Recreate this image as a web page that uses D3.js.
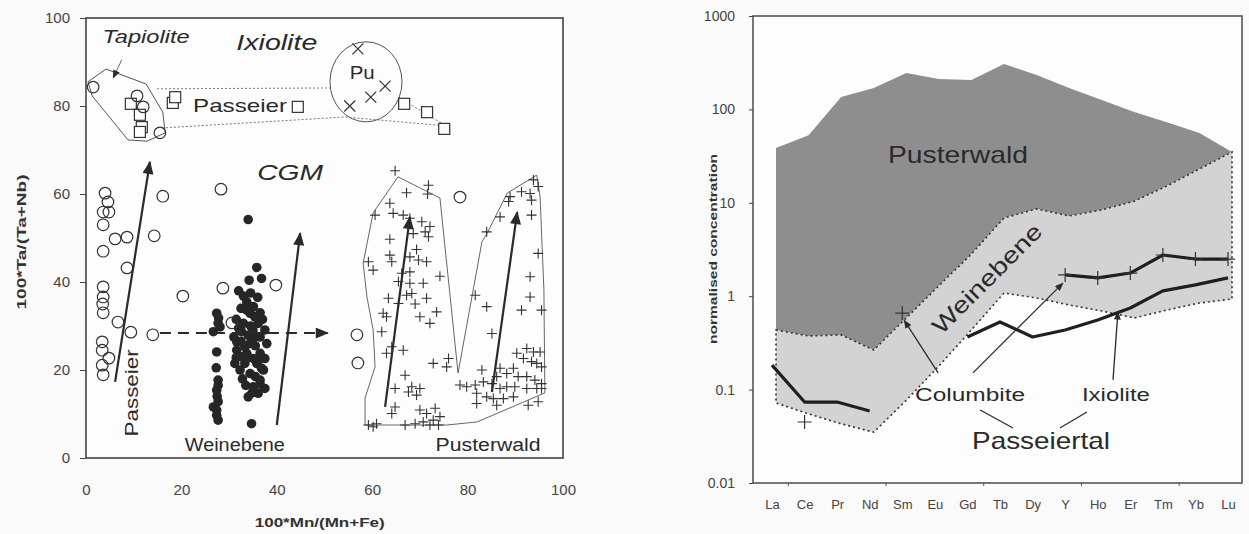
<!DOCTYPE html>
<html>
<head>
<meta charset="utf-8">
<title>CGM composition and REE patterns</title>
<script src="https://d3js.org/d3.v7.min.js"></script>
<style>
  body { margin: 0; background: #fafafa; }
  svg { display: block; font-family: "Liberation Sans", Arial, sans-serif; }
  .axis text { fill: #444; }
  .axis line { stroke: #444; }
</style>
</head>
<body>
<svg id="chart" width="1249" height="534"></svg>
<script>
// ---------- left panel: 100*Mn/(Mn+Fe) vs 100*Ta/(Ta+Nb) ----------
var passeierCircles = [[4.0,60.2],[4.6,58.2],[3.6,55.9],[4.8,55.9],[3.6,53],[6.1,49.8],[8.6,50.2],[14.3,50.5],
  [16.1,59.5],[28.3,61.1],[3.6,47],[8.6,43.2],[3.6,38.9],[3.6,36.6],[3.5,35],[20.3,36.8],[28.7,38.6],
  [3.6,33],[6.7,30.9],[9.4,28.6],[14,28],[3.4,26.4],[3.4,24.5],[4.8,22.7],[3.4,21.1],[3.6,18.9],
  [30.6,30.7],[56.8,28],[57,21.6],[78.4,59.3],[39.8,39.3]];
var tapioliteCircles = [[1.5,84.3],[10.7,82.3],[12,79.8],[15.5,73.9]];
var passeierSquares = [[9.4,80.5],[11.3,78],[11.7,75.2],[11.3,74.1],[18.2,80.7],[18.7,82],[44.4,79.8],
  [66.7,80.5],[71.5,78.6],[75.1,74.8]];
var puCrosses = [[57,93],[62.7,84.5],[59.7,82],[55.3,80]];
var weinebeneDots = [[34.0,54.2],[35.8,43.3],[34.2,40.4],[36.8,40.8],[33.7,35.5],[35.1,34.4],[34.4,32.9],
  [27.4,32.9],[27.7,30.6],[26.7,28.7],[33.0,30.6],[36.1,30.6],[32.6,28.7],[34.0,27.9],[37.5,29.1],
  [31.6,26.4],[34.4,26.0],[37.9,26.0],[27.4,24.1],[31.6,24.5],[33.7,23.8],[36.5,23.8],[31.2,21.5],
  [33.3,21.5],[35.8,21.5],[37.5,22.6],[32.3,20.0],[34.4,19.2],[36.5,17.7],[35.1,16.2],[37.5,15.8],
  [34.0,13.9],[27.7,17.7],[27.4,15.4],[27.7,12.8],[27.4,10.9],[27.7,8.6],[34.7,7.8],[37.2,20.0],
  [33.7,33.6],[35.4,32.1],[33.3,25.3],[35.4,27.6],[32.6,23.0],[35.1,22.6],[36.8,20.4],[36.1,14.7],
  [28.1,29.8],[26.7,11.6],[27.4,9.7],
  [32,38],[33,36.8],[34.5,37.5],[36,36.5],[32.5,34],[36.5,33],[31.5,31.5],[34.5,30],[37,31.5],
  [32,29.5],[35,29],[31,27.5],[36.5,27.5],[32.5,26.5],[35.5,25.5],[31.5,22.8],[34,22.8],[36,22],
  [32.8,18],[35.5,18.5],[33.5,16.5],[36.5,16.8],[34.8,14.8],[27.5,14],[27.7,16.5],[27.3,20.5],[27.8,31.8]];
var pusterwaldCrosses = [[64.8,65.3],[71.8,62.0],[67.2,60.3],[71.6,60.0],[63.7,57.9],[64.4,55.6],[60.6,55.2],
  [66.5,55.2],[67.9,54.5],[70.4,53.7],[72.1,52.6],[71.1,51.4],[71.8,50.3],[68.6,51.0],[63.7,49.7],
  [69.3,47.4],[63.7,46.1],[67.9,45.7],[69.7,45.0],[71.4,44.6],[59.2,44.6],[60.2,42.7],[64.1,44.6],
  [66.2,42.0],[67.9,42.3],[74.2,41.3],[65.5,40.1],[67.9,39.7],[70.7,39.7],[67.2,37.0],[68.3,37.4],
  [63.4,36.3],[65.5,35.1],[69.0,35.0],[71.4,36.3],[73.5,33.2],[62.3,32.9],[63.0,32.1],[70.0,32.1],
  [72.1,30.6],[62.0,28.7],[64.1,25.3],[66.5,24.5],[63.0,23.8],[72.8,21.5],[76.0,22.6],[75.6,20.7],
  [66.9,18.8],[64.8,15.8],[68.3,16.2],[70.0,15.8],[69.3,14.3],[67.6,15.0],[64.8,11.6],[64.1,10.1],
  [70.0,10.9],[71.4,10.1],[73.2,11.3],[74.2,9.4],[72.8,8.6],[70.7,8.2],[69.0,7.8],[66.9,7.5],
  [59.2,7.5],[60.9,7.8],[60.2,7.1],[72.1,7.5],[73.9,7.5],
  [93.8,63.2],[94.8,61.7],[91.3,60.5],[93.1,60.1],[88.9,59.4],[93.4,58.6],[88.6,58.3],[93.4,55.2],
  [86.8,54.8],[84.0,51.4],[94.8,46.5],[93.1,41.2],[93.1,36.6],[81.6,37.0],[84.0,34.4],[91.3,33.6],
  [95.5,33.6],[85.1,28.3],[90.3,23.8],[92.4,24.9],[93.8,24.1],[95.2,24.1],[91.7,22.6],[93.4,21.9],
  [94.5,21.5],[95.5,20.7],[86.8,20.4],[89.6,20.4],[83.0,20.0],[88.2,19.2],[90.6,18.5],[92.4,18.5],
  [94.1,17.7],[95.5,16.9],[86.1,18.5],[85.1,16.9],[83.3,17.3],[81.6,16.6],[79.8,16.2],[78.4,16.6],
  [86.8,15.8],[88.2,16.2],[89.9,16.2],[92.4,15.8],[94.5,15.8],[95.5,15.8],[81.9,14.7],[84.0,13.9],
  [85.4,13.5],[87.5,13.5],[89.6,13.9],[81.9,12.4],[86.1,12.0],[92.7,12.0],[94.8,12.8]];
var pusterwaldHull = [[60.2,55.7],[65.4,63.9],[74.2,59.1],[78,19.3],[83,49.1],[84.1,51.1],[88.3,60.2],
  [94.5,64.3],[95.2,59.3],[96,38.2],[96.2,14.8],[82,8.2],[75.7,7.5],[58.5,7.5],[58.5,13.6],[60.6,20.7],
  [60.2,29.1],[58.9,36.6],[58.1,44.3]];
var tapioliteHull = [[0.4,85.5],[4.2,88.4],[12.6,85],[16.1,78.6],[16.6,73.9],[12.8,72],[8.8,72.3],[1.3,82.3]];
var passeierUpper = [[14.9,83.9],[51.2,84.1]];
var passeierUpper2 = [[65.4,82],[75.5,75.5]];
var passeierLower = [[15.9,75],[54.3,77.5],[75.3,75.5]];
var puEllipse = {cx: 58.7, cy: 85.5, rx: 7.55, ry: 9.1};
// trend arrows [from, to]
var trendArrows = [[[6.1,17.3],[13.4,67.3]], [[40,7.5],[44.9,51.1]], [[62.7,11.6],[67.9,54.8]], [[85.1,15],[90.4,55.9]]];
var dashedArrow = [[15.5,28.4],[50.7,28.4]];
var tapioliteArrow = [[7.5,90.5],[5.7,86.4]];
var leftTicks = [0, 20, 40, 60, 80, 100];

// ---------- right panel: normalised REE ----------
var ree = ["La","Ce","Pr","Nd","Sm","Eu","Gd","Tb","Dy","Y","Ho","Er","Tm","Yb","Lu"];
var pusterwaldTop   = [38.6, 53, 136, 169, 245, 211, 206, 306, 233, 169, 126, 94, 73, 56, 35];
var weinebeneTop    = [0.435, 0.375, 0.385, 0.265, 0.585, 1.29, 2.83, 6.87, 8.6, 7.23, 8.38, 10.4, 15.1, 23, 35];
var weinebeneBottom = [0.072, 0.055, 0.043, 0.035, 0.077, 0.179, 0.435, 1.08, 0.957, 0.805, 0.695, 0.585, 0.711, 0.845, 0.933];
var passeierLree    = [0.183, 0.0736, 0.0736, 0.059, null, null, null, null, null, null, null, null, null, null, null];
var passeierSingles = [null, 0.045, null, null, 0.66, null, null, null, null, null, null, null, null, null, null];
var columbiteLine   = [null, null, null, null, null, null, null, null, null, 1.69, 1.57, 1.77, 2.76, 2.5, 2.5];
var ixioliteLine    = [null, null, null, null, null, null, 0.366, 0.53, 0.366, 0.435, 0.556, 0.748, 1.14, 1.32, 1.57];
var rightTicks = [0.01, 0.1, 1, 10, 100, 1000];

var svg = d3.select("#chart");

// arrowheads
var defs = svg.append("defs");
defs.append("marker").attr("id", "head")
  .attr("viewBox", "0 0 12 10").attr("refX", 11).attr("refY", 5)
  .attr("markerUnits", "userSpaceOnUse").attr("markerWidth", 14).attr("markerHeight", 11)
  .attr("orient", "auto")
  .append("path").attr("d", "M0,0 L12,5 L0,10 Z").attr("fill", "#2a2a2a");
defs.append("marker").attr("id", "headSmall")
  .attr("viewBox", "0 0 12 10").attr("refX", 11).attr("refY", 5)
  .attr("markerUnits", "userSpaceOnUse").attr("markerWidth", 9).attr("markerHeight", 7)
  .attr("orient", "auto")
  .append("path").attr("d", "M0,0 L12,5 L0,10 Z").attr("fill", "#2a2a2a");

// text helper: the scanned figure is stretched sideways, so labels get a fixed length
function label(g, t, px, py, size, len, opts) {
  opts = opts || {};
  var el = g.append("text").attr("text-anchor", "middle").attr("dy", "0.35em")
    .attr("transform", "translate(" + px + "," + py + ")" + (opts.rot ? " rotate(" + opts.rot + ")" : ""))
    .style("font-size", size + "px").attr("fill", opts.fill || "#2a2a2a").text(t);
  if (len) el.attr("textLength", len).attr("lengthAdjust", "spacingAndGlyphs");
  if (opts.italic) el.style("font-style", "italic");
  if (opts.bold) el.style("font-weight", "bold");
  return el;
}

// ===================== LEFT =====================
var x = d3.scaleLinear().domain([0, 100]).range([86, 563]);
var y = d3.scaleLinear().domain([0, 100]).range([458, 18]);
var L = svg.append("g");

L.append("rect").attr("x", x(0)).attr("y", y(100))
  .attr("width", x(100) - x(0)).attr("height", y(0) - y(100))
  .attr("fill", "#fdfdfd").attr("stroke", "#444").attr("stroke-width", 1.6);

L.append("g").attr("class", "axis").attr("transform", "translate(" + x(0) + ",0)")
  .call(d3.axisLeft(y).tickValues(leftTicks).tickSize(6).tickPadding(10).tickSizeOuter(0))
  .call(function (g) { g.select(".domain").remove(); })
  .selectAll("text").style("font-size", "15px");
L.append("g").attr("class", "axis").attr("transform", "translate(0," + y(0) + ")")
  .call(d3.axisBottom(x).tickValues(leftTicks).tickSize(0).tickPadding(26).tickSizeOuter(0))
  .call(function (g) { g.select(".domain").remove(); })
  .selectAll("text").style("font-size", "15px");

label(L, "100*Mn/(Mn+Fe)", x(49), 523, 12, 130, {bold: true, fill: "#333"});
label(L, "100*Ta/(Ta+Nb)", 22, 242, 12, 135, {bold: true, fill: "#333", rot: -90});

var line = d3.line().x(function (d) { return x(d[0]); }).y(function (d) { return y(d[1]); });

// envelopes
L.append("path").datum(pusterwaldHull).attr("d", function (d) { return line(d) + "Z"; })
  .attr("fill", "none").attr("stroke", "#666").attr("stroke-width", 1);
L.append("path").datum(tapioliteHull).attr("d", function (d) { return line(d) + "Z"; })
  .attr("fill", "none").attr("stroke", "#555").attr("stroke-width", 1);
[passeierUpper, passeierUpper2, passeierLower].forEach(function (p) {
  L.append("path").datum(p).attr("d", line).attr("fill", "none")
    .attr("stroke", "#777").attr("stroke-width", 1).attr("stroke-dasharray", "2,2");
});
L.append("ellipse").attr("cx", x(puEllipse.cx)).attr("cy", y(puEllipse.cy))
  .attr("rx", x(puEllipse.cx + puEllipse.rx) - x(puEllipse.cx))
  .attr("ry", y(puEllipse.cy - puEllipse.ry) - y(puEllipse.cy))
  .attr("fill", "none").attr("stroke", "#555").attr("stroke-width", 1);

// filled dots
L.selectAll(".wdot").data(weinebeneDots).enter().append("circle")
  .attr("cx", function (d) { return x(d[0]); }).attr("cy", function (d) { return y(d[1]); })
  .attr("r", 4.8).attr("fill", "#262626");

// crosses
L.selectAll(".pcross").data(pusterwaldCrosses).enter().append("path")
  .attr("d", function (d) { var px = x(d[0]), py = y(d[1]);
    return "M" + (px - 5) + "," + py + "H" + (px + 5) + "M" + px + "," + (py - 5) + "V" + (py + 5); })
  .attr("stroke", "#333").attr("stroke-width", 1.1);
L.selectAll(".xcross").data(puCrosses).enter().append("path")
  .attr("d", function (d) { var px = x(d[0]), py = y(d[1]);
    return "M" + (px - 5.5) + "," + (py - 5.5) + "L" + (px + 5.5) + "," + (py + 5.5) +
           "M" + (px - 5.5) + "," + (py + 5.5) + "L" + (px + 5.5) + "," + (py - 5.5); })
  .attr("stroke", "#333").attr("stroke-width", 1.2);

// squares
L.selectAll(".sq").data(passeierSquares).enter().append("rect")
  .attr("x", function (d) { return x(d[0]) - 5.5; }).attr("y", function (d) { return y(d[1]) - 5.5; })
  .attr("width", 11).attr("height", 11).attr("fill", "#fdfdfd").attr("stroke", "#333").attr("stroke-width", 1.2);

// open circles
L.selectAll(".oc").data(passeierCircles.concat(tapioliteCircles)).enter().append("circle")
  .attr("cx", function (d) { return x(d[0]); }).attr("cy", function (d) { return y(d[1]); })
  .attr("r", 5.8).attr("fill", "none").attr("stroke", "#333").attr("stroke-width", 1.2);

// arrows
trendArrows.forEach(function (a) {
  L.append("path").datum(a).attr("d", line).attr("stroke", "#2a2a2a").attr("stroke-width", 2.2)
    .attr("fill", "none").attr("marker-end", "url(#head)");
});
L.append("path").datum(dashedArrow).attr("d", line).attr("stroke", "#2a2a2a").attr("stroke-width", 2)
  .attr("stroke-dasharray", "11,7").attr("fill", "none").attr("marker-end", "url(#head)");
L.append("path").datum(tapioliteArrow).attr("d", line).attr("stroke", "#444").attr("stroke-width", 0.8)
  .attr("fill", "none").attr("marker-end", "url(#headSmall)");

// labels (value coordinates)
label(L, "Tapiolite", x(12.6), y(95.7), 18, 87, {italic: true});
label(L, "Ixiolite", x(40), y(94.5), 22, 81, {italic: true});
label(L, "Passeier", x(32.3), y(80.2), 19, 94);
label(L, "Pu", x(57.9), y(87.7), 19, 25);
label(L, "CGM", x(42.8), y(65), 22, 66, {italic: true});
label(L, "Passeier", x(9.6), y(14.8), 19, 87, {rot: -90});
label(L, "Weinebene", x(31.2), y(3.0), 18, 100);
label(L, "Pusterwald", x(84.3), y(3.0), 18, 105);

// ===================== RIGHT =====================
var xr = d3.scalePoint().domain(ree).range([772, 1228]);
var yr = d3.scaleLog().domain([0.01, 1000]).range([483, 16]);
var R = svg.append("g");
function xi(i) { return xr(ree[0]) + i * xr.step(); }

R.append("rect").attr("x", 753).attr("y", yr(1000)).attr("width", 1242 - 753)
  .attr("height", yr(0.01) - yr(1000)).attr("fill", "#fdfdfd");

// fills sit a few pixels right of the category positions in the scan
var fills = R.append("g").attr("transform", "translate(4,0)");
var pwArea = d3.area().x(function (d, i) { return xr(ree[i]); })
  .y0(function (d, i) { return yr(weinebeneTop[i]); }).y1(function (d) { return yr(d); });
fills.append("path").datum(pusterwaldTop).attr("d", pwArea).attr("fill", "#8e8e8e");

var wbArea = d3.area().x(function (d, i) { return xr(ree[i]); })
  .y0(function (d, i) { return yr(weinebeneBottom[i]); }).y1(function (d) { return yr(d); });
fills.append("path").datum(weinebeneTop).attr("d", wbArea)
  .attr("fill", "#d3d3d3").attr("stroke", "#333").attr("stroke-width", 1.6).attr("stroke-dasharray", "2,3");

R.append("rect").attr("x", 753).attr("y", yr(1000)).attr("width", 1242 - 753)
  .attr("height", yr(0.01) - yr(1000)).attr("fill", "none").attr("stroke", "#555").attr("stroke-width", 1.6);

R.append("g").attr("class", "axis").attr("transform", "translate(753,0)")
  .call(d3.axisLeft(yr).tickValues(rightTicks).tickFormat(function (d) { return String(d); })
    .tickSize(4).tickPadding(14).tickSizeOuter(0))
  .call(function (g) { g.select(".domain").remove(); })
  .selectAll("text").style("font-size", "14px");
R.append("g").attr("class", "axis").attr("transform", "translate(0," + yr(0.01) + ")")
  .call(d3.axisBottom(xr).tickSize(0).tickPadding(17))
  .call(function (g) { g.select(".domain").remove(); })
  .selectAll("text").style("font-size", "13px");
[0.5, 3.5, 6.5, 9.5, 12.5].forEach(function (t) {
  R.append("line").attr("x1", xi(t)).attr("x2", xi(t)).attr("y1", yr(0.01)).attr("y2", yr(0.01) + 3)
    .attr("stroke", "#555");
});
label(R, "normalised concentration", 713, 249, 11, 190, {bold: true, fill: "#333", rot: -90});

var rline = d3.line().defined(function (d) { return d != null; })
  .x(function (d, i) { return xr(ree[i]); }).y(function (d) { return yr(d); });
[passeierLree, columbiteLine, ixioliteLine].forEach(function (s) {
  R.append("path").datum(s).attr("d", rline).attr("fill", "none")
    .attr("stroke", "#1f1f1f").attr("stroke-width", 3.2).attr("stroke-linejoin", "round");
});
var crossPts = [];
columbiteLine.forEach(function (v, i) { if (v != null) crossPts.push([i, v]); });
passeierSingles.forEach(function (v, i) { if (v != null) crossPts.push([i, v]); });
R.selectAll(".rc").data(crossPts).enter().append("path")
  .attr("d", function (d) { var px = xi(d[0]), py = yr(d[1]);
    return "M" + (px - 7) + "," + py + "H" + (px + 7) + "M" + px + "," + (py - 7) + "V" + (py + 7); })
  .attr("stroke", "#333").attr("stroke-width", 1.2);

// annotation arrows (category index, value)
var rl = d3.line().x(function (d) { return xi(d[0]); }).y(function (d) { return yr(d[1]); });
var rArrows = [[[5.1, 0.151], [4.06, 0.55]], [[6.17, 0.151], [8.93, 1.38]], [[10.47, 0.127], [10.62, 0.68]]];
rArrows.forEach(function (a) {
  R.append("path").datum(a).attr("d", rl).attr("stroke", "#2a2a2a").attr("stroke-width", 1.3)
    .attr("fill", "none").attr("marker-end", "url(#headSmall)");
});
var rLinks = [[[6.39, 0.0605], [7.4, 0.0388]], [[8.84, 0.0388], [9.67, 0.0575]]];
rLinks.forEach(function (a) {
  R.append("path").datum(a).attr("d", rl).attr("stroke", "#2a2a2a").attr("stroke-width", 1.2).attr("fill", "none");
});

label(R, "Pusterwald", xi(5.71), yr(32.5), 24, 140);
label(R, "Weinebene", xi(6.6), yr(1.55), 23, 145, {rot: -45});
label(R, "Columbite", xi(6.08), yr(0.0875), 18, 110);
label(R, "Ixiolite", xi(10.56), yr(0.0875), 18, 68);
label(R, "Passeiertal", xi(8.26), yr(0.0282), 24, 138);
</script>
</body>
</html>
